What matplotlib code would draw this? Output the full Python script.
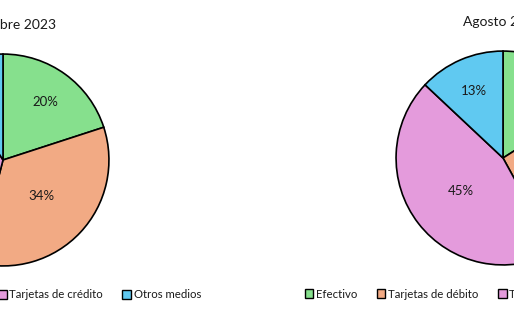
import matplotlib
matplotlib.use('Agg')
import matplotlib.pyplot as plt
import numpy as np

# ── Data ─────────────────────────────────────────────────────────────────────
categorias = ['Efectivo', 'Tarjetas de débito', 'Tarjetas de crédito', 'Otros medios']
titulo_izq = 'Septiembre 2023'
valores_izq = [20, 34, 37, 9]
titulo_der = 'Agosto 2024'
valores_der = [16, 26, 45, 13]

COLORES = ['#86E08D', '#F2AA84', '#E49BDC', '#60C9F1']
FONT = 'Lato'

plt.rcParams['font.family'] = [FONT, 'DejaVu Sans']

W, H = 514, 320
fig = plt.figure(figsize=(W / 100, H / 100), dpi=100)
fig.patch.set_facecolor('white')


def pie_axes(cx, cy, r):
    # cx, cy in pixels from top-left
    return fig.add_axes([(cx - r) / W, (H - cy - r) / H, 2 * r / W, 2 * r / H])


def draw(ax, valores, titulo, r_px):
    wedges, texts, autotexts = ax.pie(
        valores, colors=COLORES, startangle=90, counterclock=False,
        autopct='%1.0f%%', pctdistance=0.6,
        wedgeprops=dict(edgecolor='black', linewidth=1.2),
        textprops=dict(fontsize=9.5, color='#1a1a1a'))
    for w, t, v in zip(wedges, autotexts, valores):
        ang = np.radians((w.theta1 + w.theta2) / 2)
        d = 0.5 if v >= 30 else 0.68
        t.set_position((d * np.cos(ang), d * np.sin(ang)))
    ax.set_xlim(-1.01, 1.01)
    ax.set_ylim(-1.01, 1.01)
    ax.set_aspect('equal')
    ax.text(0.5, 1 + 28 / (2 * r_px), titulo, transform=ax.transAxes,
            ha='center', va='center', fontsize=10, color='#1a1a1a')
    ax.legend(wedges, categorias, loc='center', ncol=4,
              bbox_to_anchor=(0.5, -(28 / (2 * r_px))), frameon=False,
              fontsize=8.2, handlelength=0.75, handleheight=0.75,
              handletextpad=0.25, columnspacing=1.7,
              borderaxespad=0, labelcolor='#1a1a1a')
    for h in ax.get_legend().legend_handles:
        h.set_edgecolor('black')
        h.set_linewidth(1.0)


ax1 = pie_axes(3, 160, 107)
draw(ax1, valores_izq, titulo_izq, 107)
ax2 = pie_axes(503, 158, 108)
draw(ax2, valores_der, titulo_der, 108)

fig.savefig('out.png', dpi=100, facecolor='white')
